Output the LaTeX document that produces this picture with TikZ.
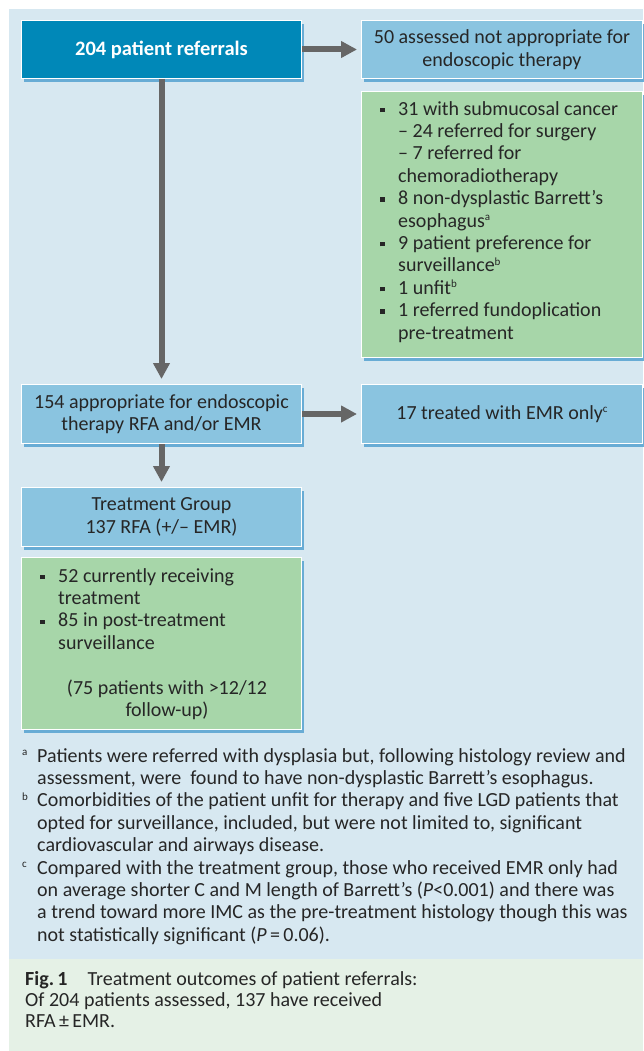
\documentclass[tikz,border=0pt]{standalone}
\usepackage{fontspec}
\setmainfont{Carlito}
\usetikzlibrary{arrows.meta,shadows}
\definecolor{panelbg}{HTML}{D7E8F1}
\definecolor{darkbox}{HTML}{0088B8}
\definecolor{lightbox}{HTML}{8AC4E0}
\definecolor{greenbox}{HTML}{A7D6A9}
\definecolor{capbg}{HTML}{E5F1E6}
\definecolor{arrowgray}{HTML}{666666}
\definecolor{shadowblue}{HTML}{5DA6D2}
\definecolor{txt}{HTML}{262626}
\newcommand{\bx}{\makebox[18pt][l]{\raisebox{3pt}{\rule{4.3pt}{4.3pt}}}}
\newcommand{\ix}{\hspace*{18pt}}
\newcommand{\sps}[1]{\raisebox{6.5pt}{\fontsize{11}{11}\selectfont #1}}
\newcommand{\fm}[1]{\makebox[15pt][l]{\sps{#1}}}
\tikzset{
  basefont/.style={font=\fontsize{20}{22.4}\selectfont, text=txt},
  boxbase/.style={draw=white, line width=1pt, anchor=north west, inner sep=0pt,
    drop shadow={shadow xshift=2.5pt, shadow yshift=-3.5pt, fill=shadowblue, opacity=0.9}},
  darkstyle/.style={boxbase, fill=darkbox},
  lightstyle/.style={boxbase, fill=lightbox, basefont, align=center},
  greenstyle/.style={boxbase, fill=greenbox},
  arr/.style={line width=6pt, draw=arrowgray, -{Triangle[length=16pt,width=16pt]}, shorten >=4pt},
  textblock/.style={basefont, align=left, anchor=north west, inner sep=0pt}
}
\begin{document}
\begin{tikzpicture}[x=1pt,y=-1pt]
\useasboundingbox (0,0) rectangle (643,1051);
\fill[panelbg] (9,9) rectangle (643,959);
\fill[capbg] (9,959) rectangle (643,1051);

\node[darkstyle, minimum width=280pt, minimum height=58pt,
  font=\fontsize{20.5}{22.4}\selectfont\bfseries, text=white] (b204) at (21,20) {204 patient referrals};
\node[lightstyle, minimum width=281pt, minimum height=58pt] (b50) at (361,20)
  {50 assessed not appropriate for\\endoscopic therapy};
\node[greenstyle, minimum width=281pt, minimum height=266pt] (g1) at (361,91) {};
\node[lightstyle, minimum width=280pt, minimum height=59pt] (b154) at (21,384)
  {154 appropriate for endoscopic\\therapy RFA and/or EMR};
\node[lightstyle, minimum width=281pt, minimum height=59pt] (b17) at (361,384)
  {17 treated with EMR only\sps{c}};
\node[lightstyle, minimum width=280pt, minimum height=59pt] (treat) at (21,487)
  {Treatment Group\\137 RFA (+/– EMR)};
\node[greenstyle, minimum width=280pt, minimum height=172pt] (g2) at (21,557) {};

\node[textblock] (g1text) at (380,101) {%
\bx 31 with submucosal cancer\\
\ix – 24 referred for surgery\\
\ix – 7 referred for\\
\ix chemoradiotherapy\\
\bx 8 non-dysplastic Barrett’s\\
\ix esophagus\sps{a}\\
\bx 9 patient preference for\\
\ix surveillance\sps{b}\\
\bx 1 unfit\sps{b}\\
\bx 1 referred fundoplication\\
\ix pre-treatment};

\node[textblock] (g2text) at (40,568) {%
\bx 52 currently receiving\\
\ix treatment\\
\bx 85 in post-treatment\\
\ix surveillance};
\node[basefont, align=center, inner sep=0pt] (g2note) at (167,700)
  {(75 patients with >12/12\\follow-up)};

\draw[arr] (b204.east) -- (b50.west);
\draw[arr, shorten >=5pt] (b204.south) -- (b154.north);
\draw[arr] (b154.east) -- (b17.west);
\draw[arr, shorten >=5pt] (b154.south) -- (treat.north);

\node[textblock] (notes) at (22,748) {%
\fm{a}Patients were referred with dysplasia but, following histology review and\\
\fm{}assessment, were\ \ found to have non-dysplastic Barrett’s esophagus.\\
\fm{b}Comorbidities of the patient unfit for therapy and five LGD patients that\\
\fm{}opted for surveillance, included, but were not limited to, significant\\
\fm{}cardiovascular and airways disease.\\
\fm{c}Compared with the treatment group, those who received EMR only had\\
\fm{}on average shorter C and M length of Barrett’s (\textit{P}<0.001) and there was\\
\fm{}a trend toward more IMC as the pre-treatment histology though this was\\
\fm{}not statistically significant (\textit{P}\,=\,0.06).};

\node[textblock, font=\fontsize{20}{21.3}\selectfont] (caption) at (25,971) {%
\textbf{Fig.\,1}\quad Treatment outcomes of patient referrals:\\
Of 204 patients assessed, 137 have received\\
RFA\,±\,EMR.};
\end{tikzpicture}
\end{document}
